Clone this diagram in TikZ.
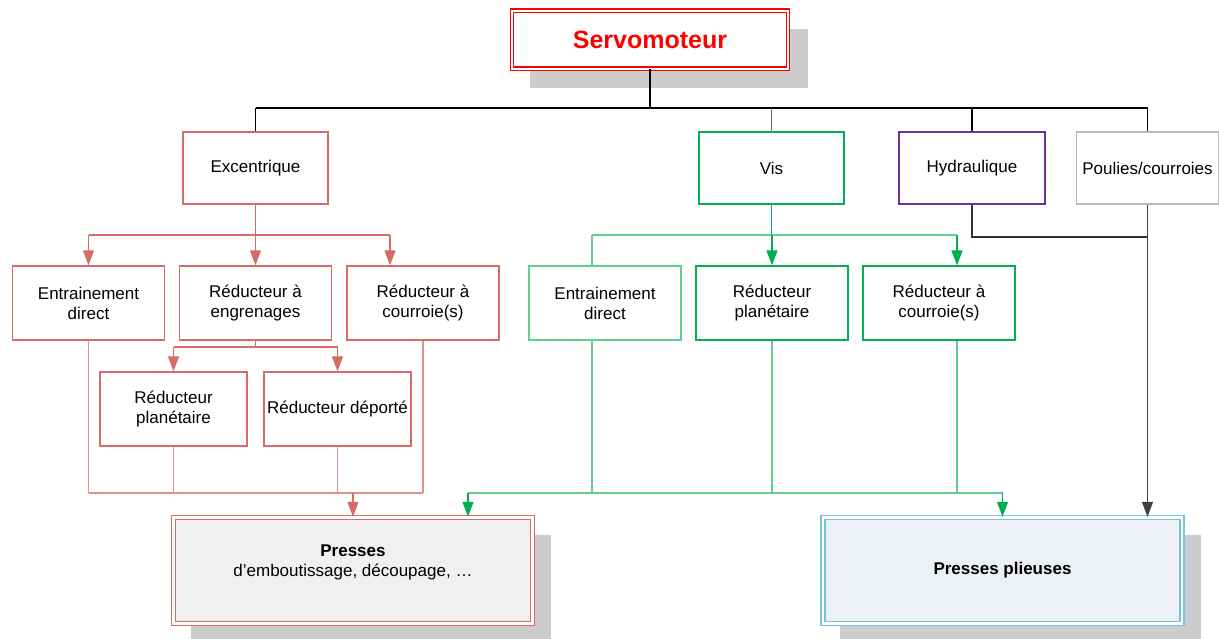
\documentclass[tikz,border=0pt]{standalone}
\usepackage{fontspec}
\setmainfont{Liberation Sans}
\usetikzlibrary{arrows.meta,calc,backgrounds}
\definecolor{exred}{RGB}{213,108,102}
\definecolor{exredl}{RGB}{226,145,140}
\definecolor{visgreen}{RGB}{0,176,80}
\definecolor{visgreenl}{RGB}{100,205,145}
\definecolor{hydpurple}{RGB}{112,48,160}
\definecolor{pougray}{RGB}{185,185,185}
\definecolor{shadowgray}{RGB}{204,204,204}
\definecolor{pressfillA}{RGB}{240,240,240}
\definecolor{pressfillB}{RGB}{237,240,245}
\definecolor{presslineB}{RGB}{120,195,215}
\begin{document}
\begin{tikzpicture}[x=1pt,y=-1pt,
  box/.style={draw, rectangle, inner sep=0pt, line width=1.3pt, align=center,
    fill=white, font=\fontsize{17}{20}\selectfont},
  topbox/.style={box, minimum width=145pt, minimum height=72pt},
  subbox/.style={box, minimum width=152pt, minimum height=74pt},
  pressbox/.style={box, line width=1.4pt, double=white, double distance=2.4pt,
    minimum width=359pt, minimum height=106pt},
  tip/.style={-{Triangle[length=15pt,width=11pt]}},
  link/.style={line width=1.2pt},
  shade/.style={fill=shadowgray}]
\useasboundingbox (0,0) rectangle (1219,638);
\clip (0,0) rectangle (1219,638);

% ---- nodes ----
\node[box, draw=red, double=white, double distance=2pt, line width=1.1pt,
      minimum width=276pt, minimum height=58pt,
      font=\fontsize{25}{28}\selectfont\bfseries, text=red] (servo) at (650,39.5) {Servomoteur};

\node[topbox, draw=exred] (exc) at (255.5,168) {Excentrique};
\node[topbox, draw=visgreen] (vis) at (771.5,168) {Vis};
\node[topbox, draw=hydpurple, minimum width=146pt] (hyd) at (972,168) {Hydraulique};
\node[topbox, draw=pougray, minimum width=142pt] (pou) at (1147.5,168) {Poulies/courroies};

\node[subbox, draw=exred] (exdir) at (88.5,303) {Entrainement\\direct};
\node[subbox, draw=exred] (exeng) at (255.5,303) {Réducteur à\\engrenages};
\node[subbox, draw=exred] (excou) at (423,303) {Réducteur à\\courroie(s)};
\node[subbox, draw=exred, minimum width=147pt] (explan) at (173.5,409) {Réducteur\\planétaire};
\node[subbox, draw=exred, minimum width=147pt] (exdep) at (337.5,409) {Réducteur déporté};

\node[subbox, draw=visgreenl] (visdir) at (605,303) {Entrainement\\direct};
\node[subbox, draw=visgreen] (visplan) at (772,303) {Réducteur\\planétaire};
\node[subbox, draw=visgreen] (viscou) at (939,303) {Réducteur à\\courroie(s)};

\node[pressbox, draw=exred, fill=pressfillA] (pressA) at (353,570.5)
  {\textbf{Presses}\\d’emboutissage, découpage, …\\\mbox{}};
\node[pressbox, draw=presslineB, fill=pressfillB] (pressB) at (1002.5,570.5)
  {\textbf{Presses plieuses}};

% ---- drop shadows ----
\begin{scope}[on background layer]
  \fill[shade] ($(servo.north west)+(19,19)$) rectangle ($(servo.south east)+(19,19)$);
  \fill[shade] ($(pressA.north west)+(18,18)$) rectangle ($(pressA.south east)+(18,18)$);
  \fill[shade] ($(pressB.north west)+(18,18)$) rectangle ($(pressB.south east)+(18,18)$);
\end{scope}

% ---- bus levels and entry points ----
\coordinate (busTop) at (0,108);
\coordinate (busEx) at (0,235);
\coordinate (busEng) at (0,347);
\coordinate (busBot) at (0,493);
\coordinate (busHyd) at (0,237);
\coordinate (excouIn) at ($(excou.north)+(-33,0)$);
\coordinate (visdirIn) at ($(visdir.north)+(-13,0)$);
\coordinate (visdirOut) at ($(visdir.south)+(-13,0)$);
\coordinate (viscouIn) at ($(viscou.north)+(18,0)$);
\coordinate (viscouOut) at ($(viscou.south)+(18,0)$);
\coordinate (pressAIn) at ($(pressA.north)+(115,0)$);

% ---- top distribution ----
\draw[link] (servo.south) -- (servo.south |- busTop);
\draw[link] (exc.north |- busTop) -- (pou.north |- busTop);
\draw[link] (exc.north |- busTop) -- (exc.north);
\draw[link, black!60] (vis.north |- busTop) -- (vis.north);
\draw[link] (hyd.north |- busTop) -- (hyd.north);
\draw[link] (pou.north |- busTop) -- (pou.north);

% ---- Excentrique branch ----
\draw[link, exred] (exc.south) -- (exc.south |- busEx);
\draw[link, exred] (exdir.north |- busEx) -- (excouIn |- busEx);
\draw[link, exred, tip] (exdir.north |- busEx) -- (exdir.north);
\draw[link, exred, tip] (exeng.north |- busEx) -- (exeng.north);
\draw[link, exred, tip] (excouIn |- busEx) -- (excouIn);
\draw[link, exred] (exeng.south) -- (exeng.south |- busEng);
\draw[link, exred] (explan.north |- busEng) -- (exdep.north |- busEng);
\draw[link, exred, tip] (explan.north |- busEng) -- (explan.north);
\draw[link, exred, tip] (exdep.north |- busEng) -- (exdep.north);
\draw[link, exredl] (exdir.south) -- (exdir.south |- busBot);
\draw[link, exredl] (explan.south) -- (explan.south |- busBot);
\draw[link, exredl] (exdep.south) -- (exdep.south |- busBot);
\draw[link, exredl] (excou.south) -- (excou.south |- busBot);
\draw[link, exredl] (exdir.south |- busBot) -- (excou.south |- busBot);
\draw[link, exred, tip] (pressA.north |- busBot) -- (pressA.north);

% ---- Vis branch ----
\draw[line width=1.9pt, visgreen] (vis.south) -- (vis.south |- busEx);
\draw[link, visgreenl] (visdirIn |- busEx) -- (viscouIn |- busEx);
\draw[link, visgreenl] (visdirIn |- busEx) -- (visdirIn);
\draw[link, visgreen, tip] (visplan.north |- busEx) -- (visplan.north);
\draw[link, visgreen, tip] (viscouIn |- busEx) -- (viscouIn);
\draw[link, visgreenl] (visdirOut) -- (visdirOut |- busBot);
\draw[link, visgreenl] (visplan.south) -- (visplan.south |- busBot);
\draw[link, visgreenl] (viscouOut) -- (viscouOut |- busBot);
\draw[link, visgreenl] (pressAIn |- busBot) -- (pressB.north |- busBot);
\draw[link, visgreen, tip] (pressAIn |- busBot) -- (pressAIn);
\draw[link, visgreen, tip] (pressB.north |- busBot) -- (pressB.north);

% ---- Hydraulique and Poulies/courroies ----
\draw[link, black!80] (hyd.south) -- (hyd.south |- busHyd) -- (pou.south |- busHyd);
\draw[link, black!75, tip] (pou.south) -- (pou.south |- pressB.north);
\end{tikzpicture}
\end{document}
